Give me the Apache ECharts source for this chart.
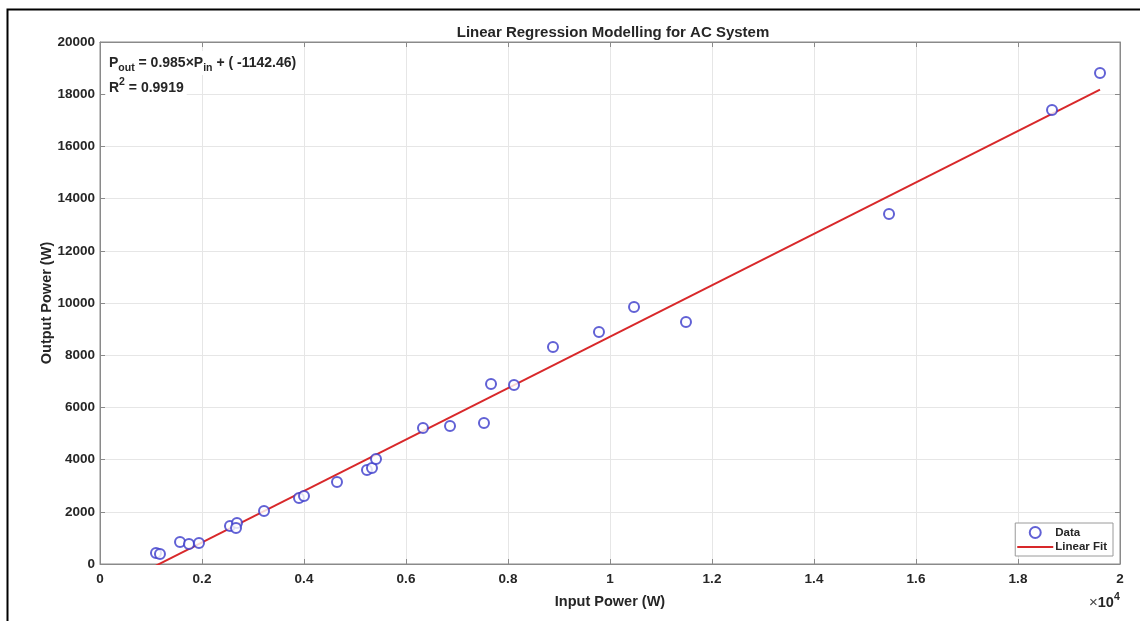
<!DOCTYPE html>
<html>
<head>
<meta charset="utf-8">
<title>Linear Regression Modelling for AC System</title>
<script src="https://cdn.jsdelivr.net/npm/echarts@6/dist/echarts.min.js"></script>
<style>
  html, body { margin: 0; padding: 0; background: #fff; }
  #chart { width: 1140px; height: 621px; }
</style>
</head>
<body>
<div id="chart"></div>
<script>
// Measured input / output power of the AC system (W)
const inputPower = [
  1098, 1176, 1569, 1745, 1941, 2549, 2686, 2667, 3216, 3902,
  4000, 4647, 5235, 5333, 5412, 6333, 6863, 7529, 7667, 8118,
  8882, 9784, 10471, 11490, 15471, 18667, 19608
];
const outputPower = [
  421, 383, 843, 766, 805, 1456, 1571, 1379, 2030, 2528,
  2605, 3141, 3601, 3678, 4023, 5210, 5287, 5402, 6896, 6858,
  8313, 8888, 9846, 9271, 13409, 17393, 18810
];

// Least-squares fit result
const fitSlope = 0.985;
const fitIntercept = -1142.46;
const fitR2 = 0.9919;

// Axis ticks
const xTicks = [0, 2000, 4000, 6000, 8000, 10000, 12000, 14000, 16000, 18000, 20000];
const yTicks = [0, 2000, 4000, 6000, 8000, 10000, 12000, 14000, 16000, 18000, 20000];

const FONT = '"Liberation Sans", Arial, Helvetica, sans-serif';
const AXIS_COLOR = '#8a8a8a';
const TEXT_COLOR = '#262626';
const DATA_COLOR = '#3a3acb';
const FIT_COLOR = '#d8282a';

const points = inputPower.map((x, i) => [x, outputPower[i]]);
const xMin = Math.min(...inputPower);
const xMax = Math.max(...inputPower);
const fitLine = [xMin, xMax].map(x => [x, fitSlope * x + fitIntercept]);

const chart = echarts.init(document.getElementById('chart'), null, { renderer: 'canvas' });

function makeAxis(position, extra) {
  const ticks = (position === 'left' || position === 'right') ? yTicks : xTicks;
  return Object.assign({
    type: 'value',
    position: position,
    min: ticks[0],
    max: ticks[ticks.length - 1],
    interval: ticks[1] - ticks[0],
    axisLine: { show: true, onZero: false, lineStyle: { color: AXIS_COLOR, width: 1 } },
    axisTick: { show: true, inside: true, length: 5, lineStyle: { color: AXIS_COLOR, width: 1 } },
    axisLabel: { show: false },
    splitLine: { show: false }
  }, extra || {});
}

const labelStyle = { fontFamily: FONT, fontSize: 13.5, fontWeight: 'bold', color: TEXT_COLOR };
const nameStyle = { fontFamily: FONT, fontSize: 14.5, fontWeight: 'bold', color: TEXT_COLOR };
const gridLine = { show: true, lineStyle: { color: '#e6e6e6', width: 1 } };

const option = {
  animation: false,
  backgroundColor: '#ffffff',
  textStyle: { fontFamily: FONT },
  title: {
    text: 'Linear Regression Modelling for AC System',
    left: 608,
    top: 20,
    textAlign: 'center',
    textStyle: { fontFamily: FONT, fontSize: 15, fontWeight: 'bold', color: TEXT_COLOR }
  },
  grid: {
    left: 100, right: 20, top: 42, bottom: 57,
    show: true, borderColor: AXIS_COLOR, borderWidth: 1, backgroundColor: 'transparent'
  },
  xAxis: [
    makeAxis('bottom', {
      name: 'Input Power (W)',
      nameLocation: 'middle',
      nameGap: 30,
      nameMoveOverlap: false,
      nameTextStyle: nameStyle,
      axisLabel: Object.assign({ show: true, margin: 8, formatter: v => String(Math.round(v / 1000) / 10) }, labelStyle),
      splitLine: gridLine
    }),
    makeAxis('top')
  ],
  yAxis: [
    makeAxis('left', {
      name: 'Output Power (W)',
      nameLocation: 'middle',
      nameGap: 46,
      nameMoveOverlap: false,
      nameTextStyle: nameStyle,
      axisLabel: Object.assign({ show: true, margin: 5, formatter: v => String(v) }, labelStyle),
      splitLine: gridLine
    }),
    makeAxis('right')
  ],
  legend: {
    orient: 'vertical',
    right: 27,
    bottom: 65,
    padding: [3, 6, 3, 2],
    itemGap: 2,
    itemWidth: 36,
    itemHeight: 11,
    backgroundColor: '#ffffff',
    borderColor: '#9a9a9a',
    borderWidth: 1,
    borderRadius: 0,
    textStyle: { fontFamily: FONT, fontSize: 11.5, fontWeight: 'bold', color: TEXT_COLOR, padding: [0, 0, 0, -3] },
    data: [
      { name: 'Data', icon: 'emptyCircle' },
      { name: 'Linear Fit', icon: 'path://M0,0h36v2h-36z', itemStyle: { color: FIT_COLOR } }
    ]
  },
  series: [
    {
      name: 'Linear Fit',
      type: 'line',
      xAxisIndex: 0,
      yAxisIndex: 0,
      data: fitLine,
      symbol: 'none',
      showSymbol: false,
      clip: true,
      lineStyle: { color: FIT_COLOR, width: 2 },
      itemStyle: { color: FIT_COLOR },
      z: 2
    },
    {
      name: 'Data',
      type: 'scatter',
      xAxisIndex: 0,
      yAxisIndex: 0,
      data: points,
      symbol: 'emptyCircle',
      symbolSize: 10,
      itemStyle: { color: DATA_COLOR, borderColor: DATA_COLOR, borderWidth: 1.5 },
      z: 3
    }
  ],
  graphic: [
    // outer frame
    {
      type: 'rect',
      shape: { x: 7.5, y: 9.5, width: 1200, height: 700 },
      style: { fill: 'none', stroke: '#000', lineWidth: 2 },
      silent: true, z: 10
    },
    // fitted equation
    {
      type: 'text',
      left: 106,
      top: 51,
      z: 5,
      style: {
        text: '{m|P}{s|out}{m| = ' + fitSlope + '×P}{s|in}{m| + ( ' + fitIntercept + ')}',
        backgroundColor: '#ffffff',
        padding: [1, 3, 1, 3],
        rich: {
          m: { fontFamily: FONT, fontSize: 14, fontWeight: 'bold', fill: TEXT_COLOR, lineHeight: 22, verticalAlign: 'middle' },
          s: { fontFamily: FONT, fontSize: 10.5, fontWeight: 'bold', fill: TEXT_COLOR, lineHeight: 12, verticalAlign: 'bottom' }
        }
      }
    },
    {
      type: 'text',
      left: 106,
      top: 76,
      z: 5,
      style: {
        text: '{m|R}{p|2}{m| = ' + fitR2 + '}',
        backgroundColor: '#ffffff',
        padding: [1, 3, 1, 3],
        rich: {
          m: { fontFamily: FONT, fontSize: 14, fontWeight: 'bold', fill: TEXT_COLOR, lineHeight: 22, verticalAlign: 'middle' },
          p: { fontFamily: FONT, fontSize: 10.5, fontWeight: 'bold', fill: TEXT_COLOR, lineHeight: 12, verticalAlign: 'top' }
        }
      }
    },
    // x-axis exponent
    {
      type: 'text',
      left: 1089,
      top: 592,
      style: {
        text: '{x|×}{b|10}{p|4}',
        rich: {
          x: { fontFamily: FONT, fontSize: 15, fill: '#444', lineHeight: 22, verticalAlign: 'middle' },
          b: { fontFamily: FONT, fontSize: 14.5, fontWeight: 'bold', fill: TEXT_COLOR, lineHeight: 22, verticalAlign: 'middle' },
          p: { fontFamily: FONT, fontSize: 10.5, fontWeight: 'bold', fill: TEXT_COLOR, lineHeight: 13, verticalAlign: 'top' }
        }
      }
    }
  ]
};

chart.setOption(option);
</script>
</body>
</html>
